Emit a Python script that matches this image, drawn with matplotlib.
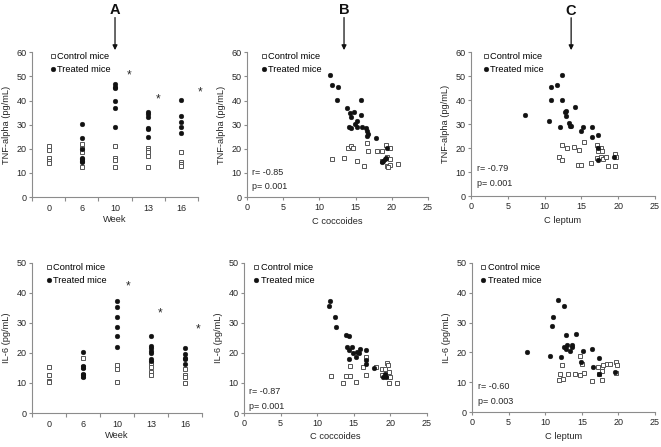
import matplotlib
matplotlib.use('Agg')
import matplotlib.pyplot as plt

plt.rcParams['font.family'] = ['Liberation Sans', 'DejaVu Sans']
plt.rcParams['font.size'] = 6.3

# --- data ---
weeks = ['0', '6', '10', '13', '16']

# TNF-alpha (pg/mL) per week
tnf_ctrl = [[21, 19.7, 16.1, 15.1, 14.2],
            [22.2, 20.5, 18.9, 15.5, 12.6],
            [21, 16.1, 15.3, 12.4],
            [20.3, 19.4, 18.6, 16.9, 12.4],
            [18.9, 14.7, 13.9, 12.8]]
tnf_trt = [[],
           [30.4, 24.4, 20, 16.1, 15.6, 15, 14.6],
           [46.7, 45.8, 45.1, 40, 36.9, 28.9],
           [35.3, 34.4, 33, 28.6, 28.1, 25.1],
           [40.3, 33.8, 31.3, 28.9, 26.7]]
tnf_stars = [(2.41, 50.4), (3.29, 40.4), (4.56, 43.5)]

# IL-6 (pg/mL) per week
il6_ctrl = [[15.4, 12.5, 10.8, 10.2],
            [18.4, 15.4, 12.8, 12.2],
            [15.9, 14.8, 10.4],
            [16.5, 15.2, 13.7, 12.8],
            [14.7, 12.6, 11.9, 10.1]]
il6_trt = [[],
           [20.2, 15.6, 15.1, 13, 12.5, 11.9],
           [37.2, 35.3, 32, 28.7, 25.8, 22],
           [25.6, 22.3, 21.5, 20.7, 20.1, 17.9, 17.3],
           [21.6, 19.8, 18.4, 17.9, 16.2]]
il6_stars = [(2.32, 42.1), (3.28, 33.1), (4.4, 27.7)]

# TNF-alpha vs C coccoides
cc_tnf_trt_x = [11.5, 11.7, 12.5, 12.4, 15.8, 13.8, 14.2, 14.8, 14.3, 15.7, 15.2, 14.9,
                14.1, 14.3, 15.2, 15.9, 16.5, 16.6, 16.7, 16.6, 17.8, 19.4, 19.2, 19.0, 18.8, 18.7]
cc_tnf_trt_y = [50.6, 46.6, 45.5, 40.3, 40.4, 37.1, 35.0, 35.4, 33.2, 33.9, 31.4, 30.5,
                29.1, 28.8, 28.9, 29.2, 28.8, 27.2, 26.3, 25.2, 24.5, 20.4, 16.4, 15.6, 15.1, 14.7]
cc_tnf_ctrl_x = [14.0, 14.4, 14.6, 16.6, 16.7, 18.0, 18.7, 19.2, 19.7, 11.8, 13.4, 15.2,
                 16.2, 19.4, 19.7, 18.7, 19.4, 19.8, 20.8, 19.5]
cc_tnf_ctrl_y = [20.5, 21.2, 20.2, 22.5, 19.2, 19.2, 19.2, 21.4, 20.4, 16.0, 16.1, 14.9,
                 12.8, 16.7, 15.7, 14.9, 12.8, 13.3, 13.9, 12.5]

# TNF-alpha vs C leptum
cl_tnf_trt_x = [12.4, 10.8, 11.7, 10.9, 12.4, 14.1, 12.7, 12.9, 12.9, 7.4, 10.6, 13.3,
                13.6, 12.1, 13.5, 15.2, 16.4, 14.9, 16.4, 17.3, 17.3, 17.3, 19.4]
cl_tnf_trt_y = [50.7, 45.6, 46.4, 40.3, 40.3, 37.2, 35.1, 35.6, 33.3, 34.0, 31.4, 30.7,
                29.4, 28.9, 29.1, 28.9, 28.7, 27.0, 24.6, 25.6, 20.3, 15.1, 16.3]
cl_tnf_ctrl_x = [12.3, 13.0, 14.0, 14.7, 15.3, 17.1, 17.3, 17.7, 17.2, 17.8, 11.9, 12.3,
                 14.6, 14.9, 16.3, 17.1, 17.6, 17.9, 18.3, 19.6, 19.7, 18.6, 19.5]
cl_tnf_ctrl_y = [21.4, 20.1, 20.4, 19.2, 22.5, 21.4, 19.9, 20.2, 18.9, 18.9, 16.3, 15.0,
                 13.2, 13.2, 14.0, 15.9, 16.2, 15.6, 16.4, 17.4, 16.3, 12.7, 12.7]

# IL-6 vs C coccoides
cc_il6_trt_x = [11.8, 11.6, 12.5, 12.6, 13.9, 14.3, 14.1, 14.8, 14.4, 14.9, 15.4, 15.7,
                15.9, 16.7, 14.3, 15.3, 16.7, 16.7, 17.8, 19.2, 19.0, 19.4]
cc_il6_trt_y = [37.4, 35.6, 31.9, 28.7, 25.9, 25.7, 22.1, 22.1, 20.9, 20.0, 20.2, 20.0,
                21.4, 21.1, 18.1, 18.6, 17.7, 16.3, 15.0, 13.0, 12.1, 12.1]
cc_il6_ctrl_x = [14.5, 16.7, 16.3, 18.1, 18.9, 19.2, 19.5, 19.7, 19.8, 11.9, 14.0, 14.5,
                 16.7, 18.9, 13.5, 15.3, 19.8, 20.9, 20.0]
cc_il6_ctrl_y = [15.6, 18.6, 15.4, 15.4, 14.7, 14.7, 16.8, 15.9, 13.7, 12.3, 12.3, 12.3,
                 12.6, 12.6, 10.1, 10.3, 10.1, 10.1, 12.1]

# IL-6 vs C leptum
cl_il6_trt_x = [11.7, 12.5, 11.0, 10.9, 12.8, 14.2, 13.0, 13.7, 12.5, 12.9, 13.6, 13.4,
                7.5, 10.7, 12.2, 15.2, 16.4, 14.9, 17.3, 16.5, 17.3, 19.5]
cl_il6_trt_y = [37.5, 35.5, 31.9, 28.9, 25.9, 26.0, 22.4, 22.4, 21.7, 21.3, 21.8, 20.4,
                20.3, 18.9, 18.4, 20.4, 21.3, 16.8, 18.0, 15.2, 12.75, 13.4]
cl_il6_ctrl_x = [12.3, 14.7, 15.0, 12.0, 13.1, 14.1, 14.7, 15.3, 11.9, 12.4, 16.4, 17.7,
                 17.2, 17.8, 17.8, 17.9, 18.4, 18.8, 19.7, 19.8, 17.3, 19.7]
cl_il6_ctrl_y = [15.8, 18.8, 16.0, 12.75, 12.75, 12.75, 12.3, 13.2, 10.6, 11.0, 10.5, 10.6,
                 15.2, 15.0, 13.9, 15.8, 16.2, 16.0, 16.9, 15.7, 12.8, 13.2]

corr_text = {'tnf_cc': ('-0.85', '0.001'), 'tnf_cl': ('-0.79', '0.001'),
             'il6_cc': ('-0.87', '0.001'), 'il6_cl': ('-0.60', '0.003')}

AXIS_GREY = '#8c8c8c'
TEXT = '#262626'
sq_style = dict(marker='s', ms=3.0, mfc='white', mec='#555555', mew=0.7, ls='none')
ci_style = dict(marker='o', ms=3.4, mfc='#111111', mec='#111111', mew=0.3, ls='none')


def style_axes(ax):
    for s in ('top', 'right'):
        ax.spines[s].set_visible(False)
    for s in ('left', 'bottom'):
        ax.spines[s].set_color(AXIS_GREY)
        ax.spines[s].set_linewidth(0.8)
    ax.tick_params(which='both', colors=AXIS_GREY, labelcolor=TEXT, length=2.5,
                   width=0.8, pad=1.5, labelsize=6.5)


def add_legend(ax, bx):
    ax.legend(loc='upper left', bbox_to_anchor=(bx, 1.0), frameon=False,
              handlelength=0.5, handletextpad=0.2, borderaxespad=0.0,
              borderpad=0.0, labelspacing=0.45, fontsize=6.7)


def week_panel(ax, ctrl, trt, stars, ymax, ylabel, bx):
    for i, vals in enumerate(ctrl):
        ax.plot([i] * len(vals), vals, label='Control mice' if i == 0 else None, **sq_style)
    for i, vals in enumerate(trt):
        ax.plot([i] * len(vals), vals, label='Treated mice' if i == 1 else None, **ci_style)
    for sx, sy in stars:
        ax.text(sx, sy, '*', ha='center', va='center', fontsize=8.5, color=TEXT, clip_on=False)
    ax.set_xlim(-0.5, 4.5)
    ax.set_ylim(0, ymax)
    ax.set_yticks(range(0, ymax + 1, 10))
    style_axes(ax)
    ax.set_xticks(range(len(weeks)))
    ax.set_xticklabels(weeks)
    ax.set_xticks([i - 0.5 for i in range(len(weeks) + 1)], minor=True)
    ax.tick_params(axis='x', which='major', length=0, pad=5)
    ax.tick_params(axis='x', which='minor', length=3)
    ax.set_xlabel('Week', color=TEXT, fontsize=6.7, labelpad=1.5)
    ax.set_ylabel(ylabel, color=TEXT, fontsize=6.7, labelpad=4)
    add_legend(ax, bx)


def scatter_panel(ax, cx, cy, tx, ty, ymax, ylabel, xlabel, rp, rp_y, bx):
    ax.plot(cx, cy, label='Control mice', **sq_style)
    ax.plot(tx, ty, label='Treated mice', **ci_style)
    ax.set_xlim(0, 25)
    ax.set_ylim(0, ymax)
    ax.set_xticks(range(0, 26, 5))
    ax.set_yticks(range(0, ymax + 1, 10))
    style_axes(ax)
    ax.set_xlabel(xlabel, color=TEXT, fontsize=6.7, labelpad=3.5)
    ax.set_ylabel(ylabel, color=TEXT, fontsize=6.7, labelpad=4)
    ax.text(0.03, rp_y[0], 'r= ' + rp[0], transform=ax.transAxes, ha='left', va='center',
            fontsize=6.5, color=TEXT)
    ax.text(0.03, rp_y[1], 'p= ' + rp[1], transform=ax.transAxes, ha='left', va='center',
            fontsize=6.5, color=TEXT)
    add_legend(ax, bx)


def mark_arrow(ax, xdata, letter):
    ax.annotate('', xy=(xdata, 1.015), xytext=(xdata, 1.24),
                xycoords=('data', 'axes fraction'), textcoords=('data', 'axes fraction'),
                arrowprops=dict(arrowstyle='-|>', color='#111111', lw=0.9,
                                mutation_scale=7, shrinkA=0, shrinkB=0),
                annotation_clip=False)
    ax.text(xdata, 1.29, letter, transform=ax.get_xaxis_transform(), ha='center',
            va='center', fontsize=10.5, fontweight='bold', color='#111111')


fig = plt.figure(figsize=(6.61, 4.47), dpi=100)

axA1 = fig.add_axes([0.0485, 0.559, 0.251, 0.324])
axB1 = fig.add_axes([0.3737, 0.559, 0.2738, 0.324])
axC1 = fig.add_axes([0.7126, 0.561, 0.2784, 0.322])
axA2 = fig.add_axes([0.0485, 0.076, 0.257, 0.336])
axB2 = fig.add_axes([0.3691, 0.076, 0.2769, 0.336])
axC2 = fig.add_axes([0.7141, 0.078, 0.2769, 0.334])

week_panel(axA1, tnf_ctrl, tnf_trt, tnf_stars, 60, 'TNF-alpha (pg/mL)', 0.11)
week_panel(axA2, il6_ctrl, il6_trt, il6_stars, 50, 'IL-6 (pg/mL)', 0.085)

scatter_panel(axB1, cc_tnf_ctrl_x, cc_tnf_ctrl_y, cc_tnf_trt_x, cc_tnf_trt_y, 60,
              'TNF-alpha (pg/mL)', 'C coccoides', corr_text['tnf_cc'], (0.17, 0.075), 0.08)
scatter_panel(axC1, cl_tnf_ctrl_x, cl_tnf_ctrl_y, cl_tnf_trt_x, cl_tnf_trt_y, 60,
              'TNF-alpha (pg/mL)', 'C leptum', corr_text['tnf_cl'], (0.195, 0.09), 0.07)
scatter_panel(axB2, cc_il6_ctrl_x, cc_il6_ctrl_y, cc_il6_trt_x, cc_il6_trt_y, 50,
              'IL-6 (pg/mL)', 'C coccoides', corr_text['il6_cc'], (0.146, 0.046), 0.055)
scatter_panel(axC2, cl_il6_ctrl_x, cl_il6_ctrl_y, cl_il6_trt_x, cl_il6_trt_y, 50,
              'IL-6 (pg/mL)', 'C leptum', corr_text['il6_cl'], (0.174, 0.068), 0.05)

mark_arrow(axA1, 2, 'A')
mark_arrow(axB1, 13.4, 'B')
mark_arrow(axC1, 13.6, 'C')

fig.savefig('out.png', dpi=100)
